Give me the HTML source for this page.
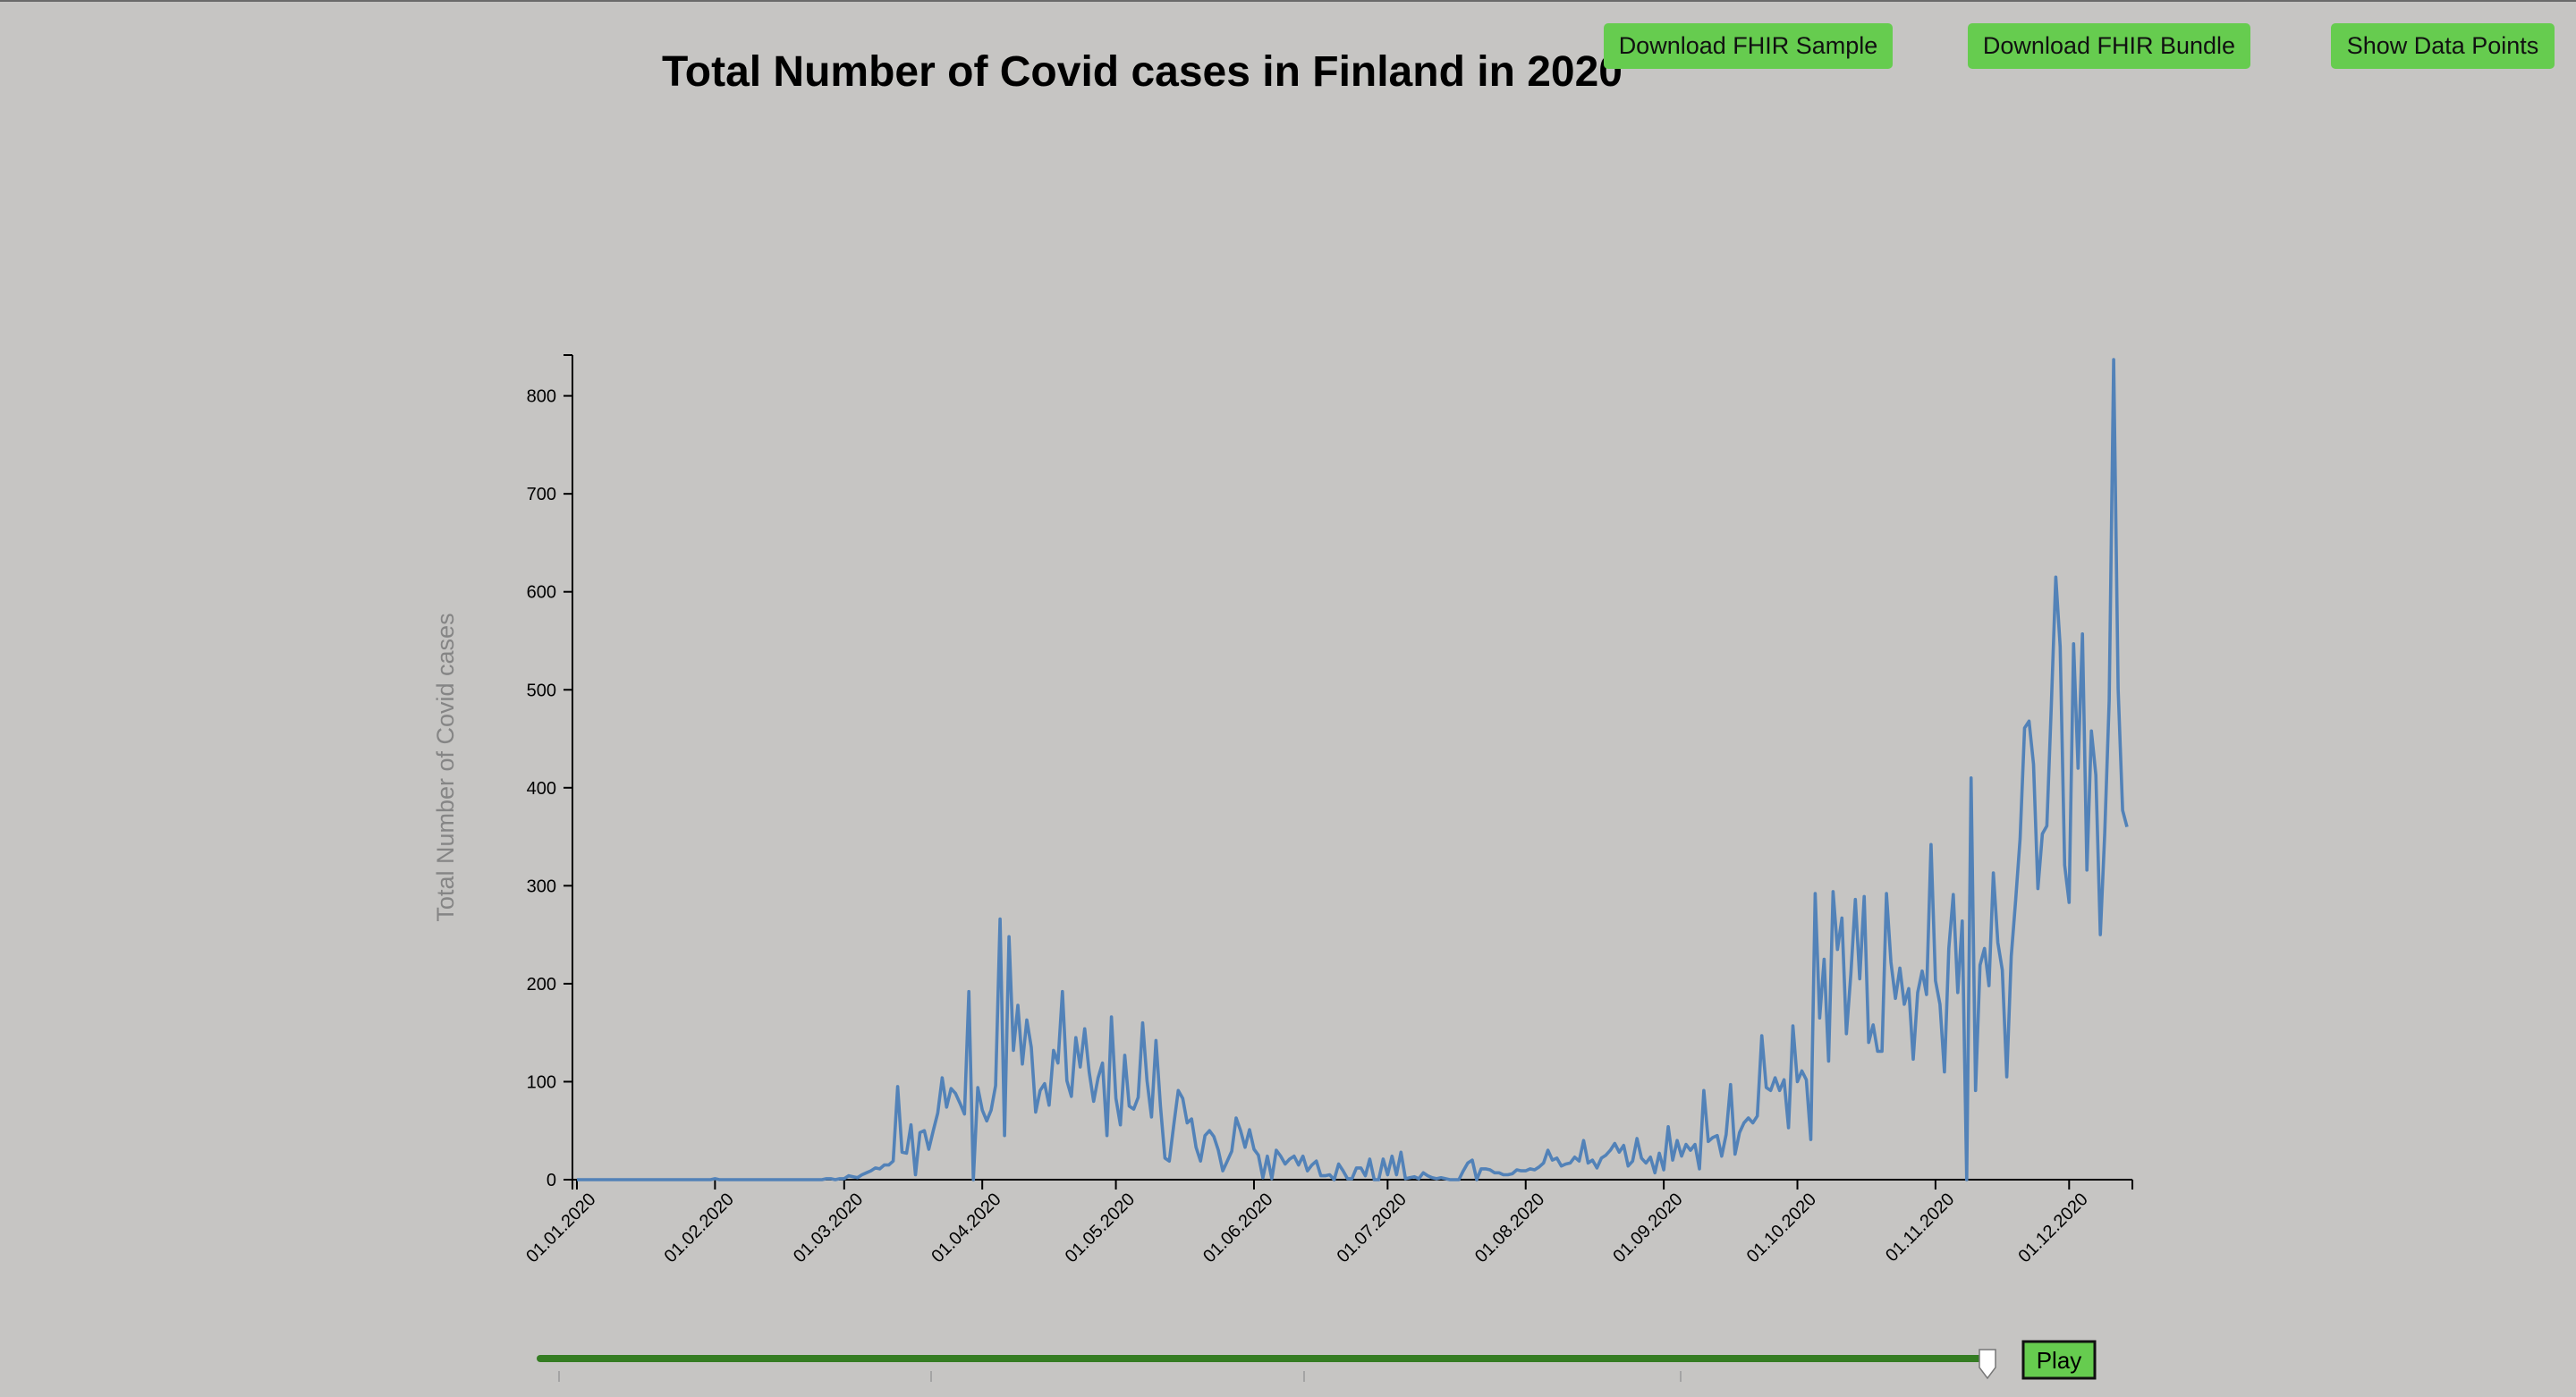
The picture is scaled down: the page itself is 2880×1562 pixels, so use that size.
<!DOCTYPE html>
<html><head><meta charset="utf-8">
<style>
html,body{margin:0;padding:0;}
body{width:2880px;height:1560px;background:#c6c5c3;position:relative;overflow:hidden;font-family:"Liberation Sans",Arial,sans-serif;border-top:2px solid #6a6a6a;box-sizing:border-box;}
.btn{position:absolute;top:24px;height:51px;background:#66cc4f;border-radius:5px;font-size:27px;color:#111;display:flex;align-items:center;justify-content:center;}
#title{position:absolute;left:740px;top:51px;font-size:48px;font-weight:bold;color:#000;white-space:nowrap;}
</style></head>
<body>
<div id="title">Total Number of Covid cases in Finland in 2020</div>
<div class="btn" style="left:1793px;width:323px">Download FHIR Sample</div>
<div class="btn" style="left:2200px;width:316px">Download FHIR Bundle</div>
<div class="btn" style="left:2606px;width:250px">Show Data Points</div>
<svg id="chart" width="2880" height="1560" style="position:absolute;left:0;top:0"></svg>
<script>
const yTicks=[0,100,200,300,400,500,600,700,800];
const monthLabels=["01.01.2020","01.02.2020","01.03.2020","01.04.2020","01.05.2020","01.06.2020","01.07.2020","01.08.2020","01.09.2020","01.10.2020","01.11.2020","01.12.2020"];
const monthDays=[0,31,60,91,121,152,182,213,244,274,305,335];
const cases=[
0,0,0,0,0,0,0,0,0,0,0,0,0,0,0,0,0,0,0,0,0,0,0,0,0,0,0,0,0,0,
0,1,0,0,0,0,0,0,0,0,0,0,0,0,0,0,0,0,0,0,0,0,0,0,0,0,1,1,0,1,
1,4,3,2,5,7,9,12,11,15,15,19,95,28,27,56,5,48,50,31,50,68,104,74,93,88,78,67,192,0,
94,71,60,71,96,266,45,248,132,178,118,163,135,69,91,98,76,132,119,192,101,85,145,115,154,110,80,104,119,45,
166,83,56,127,75,72,84,160,101,64,142,75,22,19,56,91,83,58,62,33,19,45,50,44,30,9,19,29,63,50,
33,51,31,25,2,24,1,30,24,16,21,24,15,24,9,15,19,4,4,5,0,16,9,1,1,12,12,4,21,0,
0,21,5,24,5,28,1,2,3,1,7,4,2,1,2,1,0,0,0,9,17,20,0,11,11,10,7,7,5,5,
6,10,9,9,11,10,13,17,30,20,22,14,16,17,23,19,40,17,20,12,22,25,30,37,28,35,14,19,42,22,
17,23,7,27,10,54,20,40,24,36,30,36,11,91,39,43,45,24,46,97,26,48,58,63,58,65,147,94,91,104,
91,102,53,157,100,111,102,41,292,165,225,121,294,235,267,149,210,286,205,289,140,158,131,131,292,222,185,216,179,195,
123,191,213,189,342,203,179,110,236,291,191,264,0,410,91,219,236,198,313,242,214,105,228,285,348,461,468,424,297,353,
361,484,615,544,321,283,547,420,557,316,458,413,250,353,489,837,501,377,360
];
const svg=document.getElementById('chart');
const NS='http://www.w3.org/2000/svg';
const X0=645, PX_PER_DAY=4.98, Y0=1317, PX_PER_UNIT=1.0955;
function xScale(d){return X0+d*PX_PER_DAY;}
function yScale(v){return Y0-v*PX_PER_UNIT;}
function mk(tag,attrs){const e=document.createElementNS(NS,tag);for(const k in attrs)e.setAttribute(k,attrs[k]);svg.appendChild(e);return e;}
let ya=mk('line',{x1:640,y1:395,x2:640,y2:1318,stroke:'#000','stroke-width':2});


let yt0=mk('line',{x1:630,y1:395,x2:640,y2:395,stroke:'#000','stroke-width':2});


yTicks.forEach(v=>{
  const y=yScale(v);
  const t=mk('line',{x1:630,y1:y,x2:640,y2:y,stroke:'#000','stroke-width':2});
  
  
  const tx=mk('text',{x:622,y:y+7,'text-anchor':'end','font-size':20,fill:'#000','font-family':'Liberation Sans, sans-serif'});
  tx.textContent=v;
  
  
});
const lastX=xScale(cases.length-1);
let xa=mk('line',{x1:640,y1:1317,x2:lastX+6,y2:1317,stroke:'#000','stroke-width':2});


let xe=mk('line',{x1:lastX+6,y1:1317,x2:lastX+6,y2:1328,stroke:'#000','stroke-width':2});


let xs=mk('line',{x1:640,y1:1317,x2:640,y2:1328,stroke:'#000','stroke-width':2});


monthLabels.forEach((lab,i)=>{
  const x=xScale(monthDays[i]);
  const t=mk('line',{x1:x,y1:1317,x2:x,y2:1328,stroke:'#000','stroke-width':2});
  
  
  const tx=mk('text',{x:x+22,y:1340,'text-anchor':'end','font-size':20,fill:'#000','font-family':'Liberation Sans, sans-serif',transform:`rotate(-45 ${x+22} 1340)`});
  tx.textContent=lab;
  
  
});
let yl=mk('text',{x:0,y:0,'text-anchor':'middle','font-size':27,fill:'#858585','font-family':'Liberation Sans, sans-serif',transform:'translate(507 856) rotate(-90)'});
yl.textContent='Total Number of Covid cases';


const d=cases.map((v,i)=>(i?'L':'M')+xScale(i).toFixed(1)+','+yScale(v).toFixed(1)).join('');
const path=mk('path',{d:d,fill:'none',stroke:'#5282b8','stroke-width':3.6,'stroke-linejoin':'round'});


let tr=mk('line',{x1:604,y1:1517,x2:2218,y2:1517,stroke:'#347c22','stroke-width':8,'stroke-linecap':'round'});


[625,1041,1458,1879].forEach(x=>{
  const t=mk('line',{x1:x,y1:1531,x2:x,y2:1543,stroke:'#999','stroke-width':1.5});
  
  
});
let th=mk('path',{d:'M2213,1507 L2231,1507 L2231,1527 L2222,1539 L2213,1527 Z',fill:'#fff',stroke:'#777','stroke-width':1.5});


let pb=mk('rect',{x:2262,y:1498,width:80,height:41,fill:'#66cc4f',stroke:'#111','stroke-width':3});


let pt=mk('text',{x:2302,y:1528,'text-anchor':'middle','font-size':26,fill:'#000','font-family':'Liberation Sans, sans-serif'});
pt.textContent='Play';


</script>
</body></html>
